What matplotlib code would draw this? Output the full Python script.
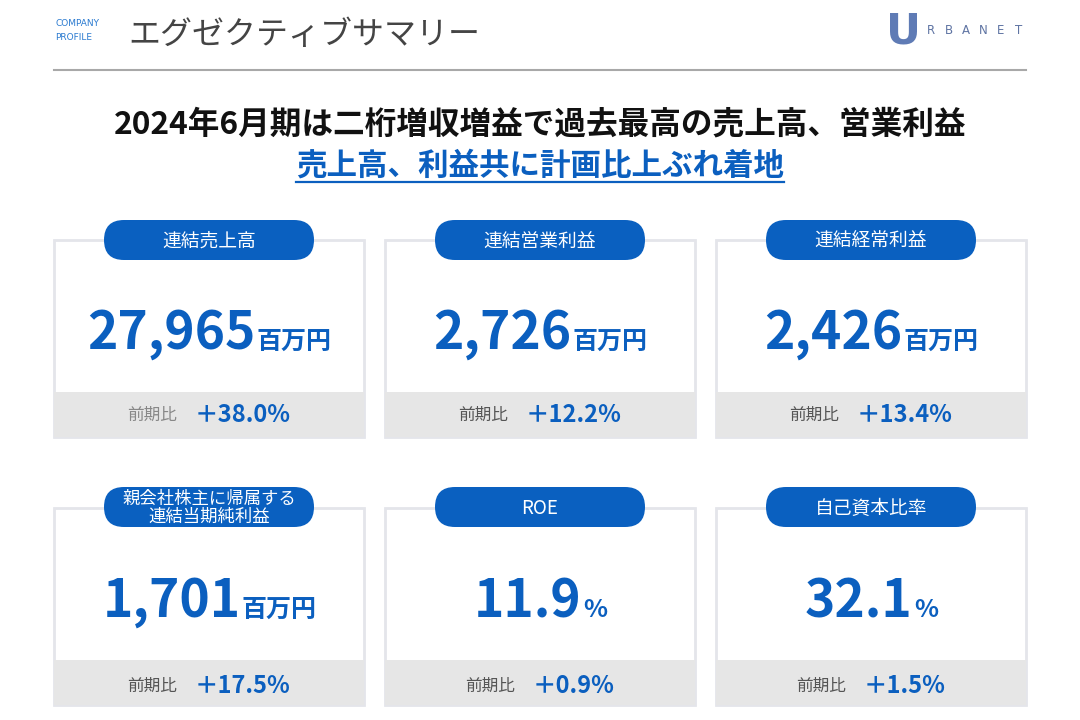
import matplotlib
matplotlib.use("Agg")
import matplotlib.pyplot as plt
from matplotlib.patches import FancyBboxPatch, Rectangle

plt.rcParams['font.family'] = ['Noto Sans CJK JP', 'DejaVu Sans']

# データ
labels = ["連結売上高", "連結営業利益", "連結経常利益",
          "親会社株主に帰属する\n連結当期純利益", "ROE", "自己資本比率"]
values = ["27,965", "2,726", "2,426", "1,701", "11.9", "32.1"]
units = ["百万円", "百万円", "百万円", "百万円", "%", "%"]
changes = ["＋38.0%", "＋12.2%", "＋13.4%", "＋17.5%", "＋0.9%", "＋1.5%"]

blue = "#0b5fbf"

fig = plt.figure(figsize=(10.8, 7.2), dpi=100)
ax = fig.add_axes([0, 0, 1, 1])
ax.set_xlim(0, 1080)
ax.set_ylim(720, 0)
ax.axis("off")

# ヘッダー
ax.text(55, 24, "COMPANY", fontsize=6.5, color="#2a7ad0", va="center", family="DejaVu Sans")
ax.text(55, 38, "PROFILE", fontsize=6.5, color="#2a7ad0", va="center", family="DejaVu Sans")
ax.text(128, 35, "エグゼクティブサマリー", fontsize=23, color="#444444", va="center")
ax.plot([54, 1026], [70, 70], color="#a8a8a8", lw=1.5)

# ロゴ
ax.text(904, 31, "U", fontsize=31, color="#5f7bb5", va="center", ha="center",
        fontweight="bold", family="DejaVu Sans")
for k, ch in enumerate("RBANET"):
    ax.text(931 + k * 17.5, 30, ch, fontsize=8.5, color="#5f74a3", va="center",
            ha="center", family="DejaVu Sans")

ax.text(540, 125, "2024年6月期は二桁増収増益で過去最高の売上高、営業利益",
        fontsize=22.8, fontweight="bold", color="#111111", ha="center", va="center")
sub = ax.text(540, 166, "売上高、利益共に計画比上ぶれ着地",
              fontsize=22, fontweight="bold", color=blue, ha="center", va="center")

fig.canvas.draw()
r = fig.canvas.get_renderer()
bb = sub.get_window_extent(r)
ax.plot([bb.x0, bb.x1], [182, 182], color=blue, lw=1.6)

col_x = [54, 385, 716]
card_w = 310
rows = [(240, 392, 437, 240), (508, 660, 705, 507)]

for i in range(6):
    c = i % 3
    top, band_top, bottom, pill_y = rows[i // 3]
    x0 = col_x[c]
    cx = x0 + card_w / 2

    ax.add_patch(Rectangle((x0, top), card_w, bottom - top, facecolor="white",
                           edgecolor="#e4e5ea", lw=2.0, zorder=1))
    ax.add_patch(Rectangle((x0, band_top), card_w, bottom - band_top,
                           facecolor="#e6e6e6", edgecolor="none", zorder=2))

    # ラベル(ピル)
    pw, ph = 210, 40
    ax.add_patch(FancyBboxPatch((cx - pw / 2, pill_y - ph / 2), pw, ph,
                                boxstyle="round,pad=0,rounding_size=20",
                                facecolor="#0a60c0", edgecolor="none", zorder=3))
    fs = 13.5 if "\n" not in labels[i] else 12.5
    ax.text(cx, pill_y + 1, labels[i], fontsize=fs, color="white", ha="center",
            va="center", zorder=4, linespacing=1.0)

    # 数値 + 単位
    base = 349 if i < 3 else 617
    t1 = ax.text(0, base, values[i], fontsize=37, fontweight="bold", color=blue,
                 ha="left", va="baseline", zorder=4)
    t2 = ax.text(0, base, units[i], fontsize=18, fontweight="bold", color=blue,
                 ha="left", va="baseline", zorder=4)
    w1 = t1.get_window_extent(r).width
    w2 = t2.get_window_extent(r).width
    start = cx - (w1 + w2) / 2
    t1.set_x(start)
    t2.set_x(start + w1 + 1)

    # 前期比
    ym = 415 if i < 3 else 686
    t3 = ax.text(0, ym, "前期比", fontsize=12, color="#555555" if i else "#888888",
                 ha="left", va="center", zorder=4)
    t4 = ax.text(0, ym, changes[i], fontsize=17, fontweight="bold", color=blue,
                 ha="left", va="center", zorder=4)
    w3 = t3.get_window_extent(r).width
    w4 = t4.get_window_extent(r).width
    gap = 18
    start = cx - (w3 + gap + w4) / 2
    t3.set_x(start)
    t4.set_x(start + w3 + gap)

fig.savefig("out.png", dpi=100)
